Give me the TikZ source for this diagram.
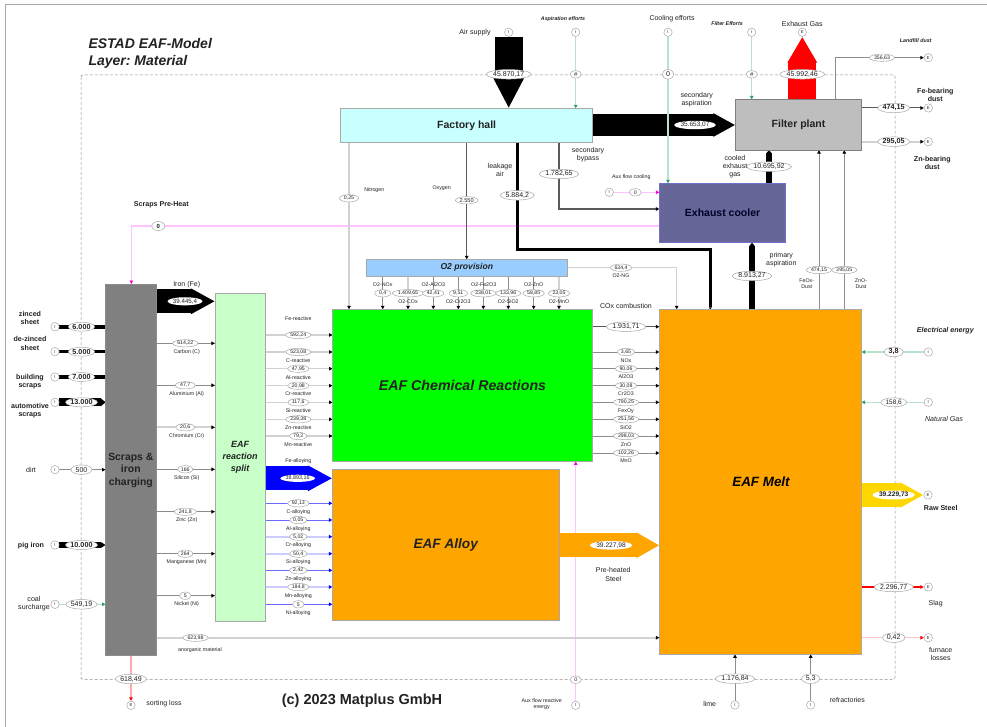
\documentclass[tikz,border=0pt]{standalone}
\usepackage{fontspec}
\setmainfont{Liberation Sans}
\usetikzlibrary{shapes.geometric,arrows.meta}
\pgfdeclarelayer{backl}
\pgfdeclarelayer{linesl}
\pgfsetlayers{backl,linesl,main}
\definecolor{ln}{HTML}{8C8C8C}
\definecolor{lnlight}{HTML}{D2D2D2}
\definecolor{lndark}{HTML}{5A5A5A}
\definecolor{blueln}{HTML}{6A6AFF}
\definecolor{bluelight}{HTML}{CCCCFF}
\definecolor{greenln}{HTML}{B8E2CA}
\definecolor{greentip}{HTML}{2E9E62}
\definecolor{pinkln}{HTML}{FFC4FF}
\definecolor{pinktip}{HTML}{FF00E0}
\definecolor{bord}{HTML}{A8A8A8}
\definecolor{ink}{HTML}{222222}
\definecolor{splitc}{HTML}{C8FFC8}
\definecolor{orng}{HTML}{FFA500}
\definecolor{hallc}{HTML}{C8FFFF}
\definecolor{filtc}{HTML}{BEBEBE}
\definecolor{coolc}{HTML}{666699}
\definecolor{coolb}{HTML}{7070C8}
\definecolor{otwoc}{HTML}{99CCFF}
\definecolor{lossp}{HTML}{FFAAAA}
\definecolor{lossq}{HTML}{FFC4C4}
\definecolor{gold}{HTML}{FFD700}
\tikzset{
  t5/.style={font=\fontsize{5.3}{6.2}\selectfont},
  t6/.style={font=\fontsize{7}{8.3}\selectfont},
  t7/.style={font=\fontsize{7.1}{8.3}\selectfont},
  tb/.style={font=\fontsize{7.1}{8.3}\selectfont\bfseries},
  tbi/.style={font=\fontsize{5.3}{6.2}\selectfont\bfseries\itshape},
  lab/.style={inner sep=0pt,align=center,text=ink},
  box/.style={rectangle,draw=#1,line width=.7pt,inner sep=0pt,outer sep=0pt,align=center,text=ink},
  ionode/.style={circle,draw=bord,fill=white,line width=.5pt,inner sep=0pt,minimum size=8.4pt,text=ink,font=\fontsize{4.2}{5}\selectfont},
  val/.style={ellipse,draw=bord,fill=white,line width=.5pt,inner sep=.3pt,outer sep=0pt,text=ink},
  vs/.style={val,inner xsep=1pt,minimum width=11.5pt,minimum height=7.3pt,font=\fontsize{5.2}{6}\selectfont},
  vm/.style={val,minimum height=9pt,font=\fontsize{6.5}{8}\selectfont},
  vl/.style={val,minimum height=9.5pt,font=\fontsize{7}{8}\selectfont},
  vb/.style={val,minimum height=9pt,font=\fontsize{7.2}{8}\selectfont\bfseries},
  vw/.style={val,draw=none,font=\fontsize{6.2}{8}\selectfont},
  tipk/.style={-{Triangle[length=3.5pt,width=3.5pt,color=black]}},
  tipb/.style={-{Triangle[length=3.5pt,width=3.5pt,color=blue]}},
  tipg/.style={-{Triangle[length=3.5pt,width=3.5pt,color=greentip]}},
  tipp/.style={-{Triangle[length=3.5pt,width=3.5pt,color=pinktip]}},
  tipr/.style={-{Triangle[length=3.5pt,width=3.5pt,color=red]}},
  thin1/.style={draw=ln,line width=1pt,tipk},
  lite1/.style={draw=lnlight,line width=1.8pt,tipk},
  mid1/.style={draw=lndark,line width=1.4pt,tipk},
  bthin/.style={draw=blueln,line width=1pt,tipb},
  blite/.style={draw=bluelight,line width=2pt,tipb},
  gthin/.style={draw=greenln,line width=1.1pt,tipg},
  pthin/.style={draw=pinkln,line width=1.4pt,tipp},
  sankey/.style n args={3}{draw=#3,line width=#1pt,-{Triangle[length=#2pt,width=#1pt]}},
}
\begin{document}
\frenchspacing
\begin{tikzpicture}[x=1pt,y=-1pt]
\useasboundingbox (0,0) rectangle (987,727);
\begin{pgfonlayer}{backl}
\fill[white] (0,0) rectangle (987,727);
\draw[bord,line width=.8pt] (5,727) -- (5,4) -- (987,4);
\draw[ln,line width=.5pt,densely dashed,rounded corners=2pt] (81,75) rectangle (895,679.3);
\end{pgfonlayer}

% ---------- boxes
\node[box=ln,fill=gray,minimum width=50.5pt,minimum height=371pt] (scraps) at (130.8,469.5) {};
\node[lab,font=\fontsize{10.4}{12.5}\selectfont\bfseries] (scrapsT) at (130.8,470) {Scraps \&\\iron\\charging};
\node[box=bord,fill=splitc,minimum width=50.5pt,minimum height=328pt,font=\fontsize{9}{12}\selectfont\bfseries\itshape] (split) at (240.2,457) {EAF\\reaction\\split};
\node[box=bord,fill=green,minimum width=260pt,minimum height=152pt,font=\fontsize{14.2}{16}\selectfont\bfseries\itshape] (chem) at (462.5,385.3) {EAF Chemical Reactions};
\node[box=bord,fill=orng,minimum width=226.7pt,minimum height=151.7pt,font=\fontsize{13.6}{16}\selectfont\bfseries\itshape] (alloy) at (445.7,544.9) {EAF Alloy};
\node[box=bord,fill=orng,minimum width=202.2pt,minimum height=345pt] (melt) at (760.5,481.8) {};
\node[lab,font=\fontsize{13.4}{16}\selectfont\bfseries\itshape,text=black] (meltT) at (761,482) {EAF Melt};
\node[box=bord,fill=hallc,minimum width=252pt,minimum height=34pt,font=\fontsize{10.5}{12}\selectfont\bfseries] (hall) at (466.7,125.3) {Factory hall};
\node[box=gray,fill=filtc,minimum width=126.4pt,minimum height=50.7pt,font=\fontsize{10.5}{12}\selectfont\bfseries] (filter) at (798.5,124.7) {Filter plant};
\node[box=coolb,fill=coolc,minimum width=126.4pt,minimum height=59.4pt,font=\fontsize{10.5}{12}\selectfont\bfseries,text=black!85!blue] (cooler) at (722.6,213) {Exhaust cooler};
\node[box=bord,fill=otwoc,minimum width=201.7pt,minimum height=16.7pt,font=\fontsize{8.6}{10}\selectfont\bfseries\itshape] (otwo) at (466.8,267.7) {O2 provision};

% ---------- titles
\node[lab,align=left,anchor=west,font=\fontsize{14}{16.7}\selectfont\bfseries\itshape] (title) at (88.3,53.5) {ESTAD EAF-Model\\Layer: Material};
\node[lab,font=\fontsize{14.5}{17}\selectfont\bfseries] (copy) at (362,700.7) {(c) 2023 Matplus GmbH};

% ---------- left inputs
\node[ionode] (iZinc) at (55,326.7) {I};
\node[ionode] (iDez) at (55,351.7) {I};
\node[ionode] (iBuild) at (55,377) {I};
\node[ionode] (iAuto) at (55,402.3) {I};
\node[ionode] (iDirt) at (55,469.7) {I};
\node[ionode] (iPig) at (55,545) {I};
\node[ionode] (iCoal) at (55,604.3) {I};
\node[vb] (vZinc) at (81.5,326.7) {6.000};
\node[vb] (vDez) at (81.5,351.7) {5.000};
\node[vb] (vBuild) at (81.5,377) {7.000};
\node[vb] (vAuto) at (81.5,402.3) {13.000};
\node[vl,minimum width=21pt] (vDirt) at (81.5,469.7) {500};
\node[vb] (vPig) at (81.5,545) {10.000};
\node[vl] (vCoal) at (81.5,604.3) {549,19};
\node[lab,tb] (lZinc) at (30,318) {zinced\\sheet};
\node[lab,tb] (lDez) at (30,343.5) {de-zinced\\sheet};
\node[lab,tb] (lBuild) at (30,381.5) {building\\scraps};
\node[lab,tb] (lAuto) at (30,410.8) {automotive\\scraps};
\node[lab,t7] (lDirt) at (31,469.7) {dirt};
\node[lab,tb] (lPig) at (31,545.3) {pig iron};
\node[lab,t7] (lCoal) at (34,604) {coal\\surcharge};

% ---------- scraps to split
\node[vw] (vIron) at (185,301.3) {39.445,4};
\node[lab,t6] (lIron) at (186.7,284.7) {Iron (Fe)};
\node[vs] (vC) at (185.3,343.3) {614,22};
\node[lab,t5] (lC) at (186.7,351.7) {Carbon (C)};
\node[vs,minimum width=20pt] (vAl) at (185.3,385.3) {47,7};
\node[lab,t5] (lAl) at (186.7,394) {Aluminium (Al)};
\node[vs,minimum width=19pt] (vCr) at (185.3,427.3) {20,6};
\node[lab,t5] (lCr) at (186.7,436) {Chromium (Cr)};
\node[vs] (vSi) at (185.3,469.3) {166};
\node[lab,t5] (lSi) at (186.7,478) {Silicon (Si)};
\node[vs,minimum width=22pt] (vZn) at (185.3,511.7) {241,8};
\node[lab,t5] (lZn) at (186.7,520) {Zinc (Zn)};
\node[vs] (vMn) at (185.3,553.7) {264};
\node[lab,t5] (lMn) at (186.7,562) {Manganese (Mn)};
\node[vs] (vNi) at (185.3,595.7) {5};
\node[lab,t5] (lNi) at (186.7,604) {Nickel (Ni)};
\node[vs] (vAno) at (195.5,637.7) {623,98};
\node[lab,t5] (lAno) at (200,650.3) {anorganic material};
\node[vl] (vSort) at (131,679) {618,49};
\node[ionode] (eSort) at (131,705.3) {E};
\node[lab,t6] (lSort) at (164,704) {sorting loss};
\node[vb,minimum width=13pt,font=\fontsize{6}{7}\selectfont\bfseries] (vPre) at (158.3,226) {0};
\node[lab,tb] (lPre) at (161.3,205) {Scraps Pre-Heat};
\coordinate (preTurn) at (131.3,226);

% ---------- split to chem / alloy
\node[lab,t5] (lFeR) at (298.3,318.7) {Fe-reactive};
\node[vs] (r1) at (298.3,335) {592,24};
\node[vs] (r2) at (298.3,352) {523,08};
\node[lab,t5] (lCR) at (298.3,360.3) {C-reactive};
\node[vs] (r3) at (298.3,368.7) {47,95};
\node[lab,t5] (lAlR) at (298.3,377.3) {Al-reactive};
\node[vs] (r4) at (298.3,385.7) {20,98};
\node[lab,t5] (lCrR) at (298.3,394) {Cr-reactive};
\node[vs] (r5) at (298.3,402.3) {117,6};
\node[lab,t5] (lSiR) at (298.3,411) {Si-reactive};
\node[vs] (r6) at (298.3,419.3) {239,38};
\node[lab,t5] (lZnR) at (298.3,427.7) {Zn-reactive};
\node[vs] (r7) at (298.3,436) {79,2};
\node[lab,t5] (lMnR) at (298.3,444.7) {Mn-reactive};
\node[lab,t5] (lFeA) at (298.3,461.3) {Fe-alloying};
\node[vw,font=\fontsize{5.4}{7}\selectfont] (vFeA) at (297.7,478.3) {38.893,16};
\node[vs] (a1) at (298.3,503.3) {92,13};
\node[lab,t5] (lCA) at (298.3,511.7) {C-alloying};
\node[vs] (a2) at (298.3,520) {0,05};
\node[lab,t5] (lAlA) at (298.3,528.7) {Al-alloying};
\node[vs] (a3) at (298.3,536.7) {5,02};
\node[lab,t5] (lCrA) at (298.3,545.3) {Cr-alloying};
\node[vs] (a4) at (298.3,553.7) {50,4};
\node[lab,t5] (lSiA) at (298.3,562.3) {Si-alloying};
\node[vs] (a5) at (298.3,570.3) {2,42};
\node[lab,t5] (lZnA) at (298.3,579) {Zn-alloying};
\node[vs] (a6) at (298.3,587) {184,8};
\node[lab,t5] (lMnA) at (298.3,596) {Mn-alloying};
\node[vs] (a7) at (298.3,604.3) {5};
\node[lab,t5] (lNiA) at (298.3,612.7) {Ni-alloying};

% ---------- chem to melt
\node[lab,t6] (lCOx) at (626,305.7) {COx combustion};
\node[vl] (vCOx) at (626,326.7) {1.931,71};
\node[vs] (m1) at (626,352) {3,65};
\node[lab,t5] (lNOx) at (626,360.3) {NOx};
\node[vs] (m2) at (626,368.7) {90,06};
\node[lab,t5] (lAlO) at (626,377) {Al2O3};
\node[vs] (m3) at (626,385.7) {30,08};
\node[lab,t5] (lCrO) at (626,394) {Cr2O3};
\node[vs] (m4) at (626,402.3) {790,25};
\node[lab,t5] (lFeO) at (626,411) {FexOy};
\node[vs] (m5) at (626,419.3) {251,56};
\node[lab,t5] (lSiO) at (626,427.7) {SiO2};
\node[vs] (m6) at (626,436) {298,03};
\node[lab,t5] (lZnO) at (626,444.7) {ZnO};
\node[vs] (m7) at (626,453) {102,26};
\node[lab,t5] (lMnO) at (626,461) {MnO};

% ---------- O2 provision
\node[vs,minimum width=16pt] (o1) at (382.7,293.3) {0,4};
\node[vs] (o2) at (408,293.3) {1.409,65};
\node[vs] (o3) at (433.3,293.3) {42,41};
\node[vs,minimum width=18.5pt] (o4) at (458.3,293.3) {9,51};
\node[vs] (o5) at (483.3,293.3) {238,01};
\node[vs] (o6) at (508.3,293.3) {133,96};
\node[vs] (o7) at (533.7,293.3) {58,85};
\node[vs] (o8) at (559,293.3) {23,05};
\node[lab,t5] (lo1) at (382.7,284.7) {O2-NOx};
\node[lab,t5] (lo3) at (433.3,284.7) {O2-Al2O3};
\node[lab,t5] (lo5) at (483.7,284.7) {O2-Fe2O3};
\node[lab,t5] (lo7) at (533.7,284.7) {O2-ZnO};
\node[lab,t5] (lo2) at (408,301.7) {O2-COx};
\node[lab,t5] (lo4) at (458.3,301.7) {O2-Cr2O3};
\node[lab,t5] (lo6) at (508.3,301.7) {O2-SiO2};
\node[lab,t5] (lo8) at (559,301.7) {O2-MnO};
\node[vs] (vNG) at (621,267.7) {634,4};
\node[lab,t5] (lNG) at (621,276) {O2-NG};
\coordinate (ngTurn) at (676.7,267.7);

% ---------- factory hall
\node[vs,minimum width=19pt] (vNit) at (349,198.3) {0,25};
\node[lab,t5] (lNit) at (374.3,190) {Nitrogen};
\node[vs,font=\fontsize{5.6}{7}\selectfont] (vOxy) at (466.7,200.3) {2.550};
\node[lab,t5] (lOxy) at (441.7,188) {Oxygen};
\node[vl] (vLeak) at (517.3,195.3) {5.884,2};
\node[lab,t6] (lLeak) at (500,170) {leakage\\air};
\coordinate (leakTurn) at (710.3,250);
\node[vl] (vBy) at (559,174) {1.782,65};
\node[lab,t6] (lBy) at (588,154.5) {secondary\\bypass};
\coordinate (byTurn) at (559,209);
\node[ionode] (iAuxC) at (609.3,192.3) {I};
\node[vs,minimum width=12pt] (vAuxC) at (635.3,192.3) {0};
\node[lab,t5] (lAuxC) at (631.3,176.7) {Aux flow cooling};
\node[vw,font=\fontsize{6.5}{8}\selectfont] (vSec) at (695,125) {35.653,07};
\node[lab,t6] (lSec) at (696.7,99.7) {secondary\\aspiration};

% ---------- top
\node[ionode] (iAir) at (508.7,32.3) {I};
\node[vl] (vAir) at (508.7,74.3) {45.870,17};
\node[lab,t7] (lAir) at (475,32.7) {Air supply};
\node[ionode] (iAsp) at (575.7,32.3) {I};
\node[vs,font=\fontsize{6}{7}\selectfont] (vAsp) at (575.7,74.3) {\#};
\node[lab,tbi] (lAsp) at (563,19) {Aspiration efforts};
\node[ionode] (iCool) at (668,32.3) {I};
\node[vl,minimum width=11.5pt] (vCool) at (668,74.3) {0};
\node[lab,t6] (lCool) at (672,19) {Cooling efforts};
\node[ionode] (iFilt) at (751.7,32.3) {I};
\node[vs,font=\fontsize{6}{7}\selectfont] (vFilt) at (751.7,74.3) {\#};
\node[lab,tbi] (lFilt) at (727,24) {Filter Efforts};
\node[ionode] (eExh) at (802.3,32.3) {E};
\node[vl] (vExh) at (802.3,74.3) {45.992,46};
\node[lab,t7] (lExh) at (802.3,24) {Exhaust Gas};
\coordinate (lfTurn) at (835.7,57.7);
\node[vs] (vLand) at (882,57.7) {356,63};
\node[ionode] (eLand) at (928.3,57.7) {E};
\node[lab,tbi] (lLand) at (915.7,41) {Landfill dust};
\node[vb] (vFeD) at (893.7,108) {474,15};
\node[ionode] (eFeD) at (928.3,108) {E};
\node[lab,tb] (lFeD) at (935.3,95.3) {Fe-bearing\\dust};
\node[vb] (vZnD) at (893.7,141.7) {295,05};
\node[ionode] (eZnD) at (928.3,141.7) {E};
\node[lab,tb] (lZnD) at (932.3,162.7) {Zn-bearing\\dust};
\node[vl] (vCoold) at (769,166.7) {10.695,92};
\node[lab,t6] (lCoold) at (735,166.7) {cooled\\exhaust\\gas};
\node[vl] (vPrim) at (752,276) {8.913,27};
\node[lab,t6] (lPrim) at (781.3,259.7) {primary\\aspiration};
\node[vs] (vFeOx) at (819,270) {474,15};
\node[lab,t5] (lFeOx) at (806.7,284) {FeOx-\\Dust};
\node[vs] (vZnOx) at (844.3,270) {295,05};
\node[lab,t5] (lZnOx) at (861,284) {ZnO-\\Dust};

% ---------- right of melt
\node[vb,minimum width=19pt] (vEl) at (893.7,352) {3,8};
\node[ionode] (iEl) at (928.3,352) {I};
\node[lab,font=\fontsize{7.1}{8}\selectfont\bfseries\itshape] (lEl) at (945.3,330.7) {Electrical energy};
\node[vm,minimum width=26pt] (vGas) at (893.7,402.3) {158,6};
\node[ionode] (iGas) at (928.3,402.3) {I};
\node[lab,font=\fontsize{7.1}{8}\selectfont\itshape] (lGas) at (944,419.3) {Natural Gas};
\node[vb,draw=none,font=\fontsize{6.6}{8}\selectfont\bfseries] (vRaw) at (893.7,495) {39.229,73};
\node[ionode] (eRaw) at (928,495) {E};
\node[lab,tb] (lRaw) at (940.7,507.7) {Raw Steel};
\node[vl] (vSlag) at (893.7,587) {2.296,77};
\node[ionode] (eSlag) at (928.3,587) {E};
\node[lab,t6] (lSlag) at (935.7,604) {Slag};
\node[vl,minimum width=22.5pt] (vLoss) at (893.7,637.7) {0,42};
\node[ionode] (eLoss) at (928.3,637.7) {E};
\node[lab,t6] (lLoss) at (940.7,654.3) {furnace\\losses};
\node[vl] (vLime) at (735,678.7) {1.176,84};
\node[ionode] (iLime) at (735,705) {I};
\node[lab,t6] (lLime) at (709.7,704) {lime};
\node[vl,minimum width=18pt] (vRef) at (810.7,678.7) {5,3};
\node[ionode] (iRef) at (810.7,705) {I};
\node[lab,t6] (lRef) at (847.3,699.7) {refractories};

% ---------- alloy out, aux
\node[vw,font=\fontsize{6.6}{8}\selectfont] (vPreh) at (611,545.3) {39.227,98};
\node[lab,t6] (lPreh) at (613.3,574.5) {Pre-heated\\Steel};
\node[vs] (vAuxR) at (575.7,679.7) {0};
\node[ionode] (iAuxR) at (575.7,705.3) {I};
\node[lab,font=\fontsize{5.3}{6}\selectfont] (lAuxR) at (541.7,703.8) {Aux flow reactive\\energy};

% ========== connectors
\begin{pgfonlayer}{linesl}
% pink
\draw[pthin] (cooler.west |- vPre) -- (preTurn) -- (preTurn |- scraps.north);
\draw[pthin] (iAuxR) -- (iAuxR |- chem.south);
\draw[pthin] (iAuxC) -- (cooler.west |- iAuxC);
% left inputs
\draw[line width=4pt,black] (iZinc) -- (scraps.west |- iZinc);
\draw[line width=3.5pt,black] (iDez) -- (scraps.west |- iDez);
\draw[line width=4.5pt,black] (iBuild) -- (scraps.west |- iBuild);
\draw[sankey={8}{5}{black}] (iAuto) -- (scraps.west |- iAuto);
\draw[thin1] (iDirt) -- (scraps.west |- iDirt);
\draw[sankey={6}{5}{black}] (iPig) -- (scraps.west |- iPig);
\draw[gthin] (iCoal) -- (scraps.west |- iCoal);
% scraps to split
\draw[sankey={24}{24}{black}] (scraps.east |- vIron) -- (split.west |- vIron);
\draw[thin1] (scraps.east |- vC) -- (split.west |- vC);
\draw[thin1] (scraps.east |- vAl) -- (split.west |- vAl);
\draw[lite1] (scraps.east |- vCr) -- (split.west |- vCr);
\draw[thin1] (scraps.east |- vSi) -- (split.west |- vSi);
\draw[thin1] (scraps.east |- vZn) -- (split.west |- vZn);
\draw[thin1] (scraps.east |- vMn) -- (split.west |- vMn);
\draw[thin1] (scraps.east |- vNi) -- (split.west |- vNi);
\draw[lite1] (scraps.east |- vAno) -- (melt.west |- vAno);
\draw[draw=lossp,line width=1.1pt,tipr] (vSort |- scraps.south) -- (eSort);
% split to chem
\foreach \n in {r1,r2,r3,r4,r5,r6,r7}{\draw[draw=lnlight,line width=1.5pt,tipk] (split.east |- \n) -- (chem.west |- \n);}
\draw[sankey={24}{24.5}{blue}] (split.east |- vFeA) -- (alloy.west |- vFeA);
\draw[bthin] (split.east |- a1) -- (alloy.west |- a1);
\draw[bthin] (split.east |- a2) -- (alloy.west |- a2);
\draw[blite] (split.east |- a3) -- (alloy.west |- a3);
\draw[blite] (split.east |- a4) -- (alloy.west |- a4);
\draw[bthin] (split.east |- a5) -- (alloy.west |- a5);
\draw[blite] (split.east |- a6) -- (alloy.west |- a6);
\draw[bthin] (split.east |- a7) -- (alloy.west |- a7);
% chem to melt
\draw[mid1] (chem.east |- vCOx) -- (melt.west |- vCOx);
\foreach \n in {m1,m2,m3,m4,m5,m6,m7}{\draw[draw=ln,line width=1pt,tipk] (chem.east |- \n) -- (melt.west |- \n);}
% O2 provision
\foreach \n in {o1,o3,o4,o5,o6,o7}{\draw[draw=ln,line width=.9pt,tipk] (\n |- otwo.south) -- (\n |- chem.north);}
\draw[lite1,line width=1.3pt] (o2 |- otwo.south) -- (o2 |- chem.north);
\draw[lite1,line width=1.3pt] (o8 |- otwo.south) -- (o8 |- chem.north);
\draw[draw=lnlight,line width=1.2pt,tipk] (otwo.east |- vNG) -- (ngTurn) -- (ngTurn |- melt.north);
% factory hall
\draw[lite1] (vNit |- hall.south) -- (vNit |- chem.north);
\draw[mid1] (vOxy |- hall.south) -- (vOxy |- otwo.north);
\draw[black,line width=3pt,-{Triangle[length=2pt,width=3pt]}] (vLeak |- hall.south) |- (leakTurn) -- (leakTurn |- melt.north);
\draw[mid1] (vBy |- hall.south) -- (byTurn) -- (cooler.west |- byTurn);
\draw[sankey={22}{22}{black}] (hall.east |- vSec) -- (filter.west |- vSec);
% top
\draw[sankey={28.3}{30}{black}] (iAir) -- (iAir |- hall.north);
\draw[sankey={28}{26}{red}] (vExh |- filter.north) -- (eExh);
\draw[gthin] (iAsp) -- (iAsp |- hall.north);
\draw[gthin] (iCool) -- (iCool |- cooler.north);
\draw[gthin] (iFilt) -- (iFilt |- filter.north);
\draw[thin1] (lfTurn |- filter.north) -- (lfTurn) -- (eLand);
\draw[draw=lndark,line width=1pt,tipk] (filter.east |- vFeD) -- (eFeD);
\draw[lite1] (filter.east |- vZnD) -- (eZnD);
\draw[sankey={5.5}{3.5}{black}] (vCoold |- cooler.north) -- (vCoold |- filter.south);
\draw[sankey={5.5}{3.5}{black}] (vPrim |- melt.north) -- (vPrim |- cooler.south);
\draw[thin1] (vFeOx |- melt.north) -- (vFeOx |- filter.south);
\draw[thin1] (vZnOx |- melt.north) -- (vZnOx |- filter.south);
% right of melt
\draw[gthin] (iEl) -- (melt.east |- iEl);
\draw[gthin] (iGas) -- (melt.east |- iGas);
\draw[sankey={23.3}{23}{gold}] (melt.east |- vRaw) -- (eRaw);
\draw[draw=red,line width=1.3pt,tipr] (melt.east |- vSlag) -- (eSlag);
\draw[draw=lossq,line width=1.3pt,tipr] (melt.east |- vLoss) -- (eLoss);
\draw[thin1] (iLime) -- (iLime |- melt.south);
\draw[thin1] (iRef) -- (iRef |- melt.south);
% alloy out
\draw[sankey={24}{23}{orng}] (alloy.east |- vPreh) -- (melt.west |- vPreh);
\end{pgfonlayer}
\end{tikzpicture}
\end{document}
